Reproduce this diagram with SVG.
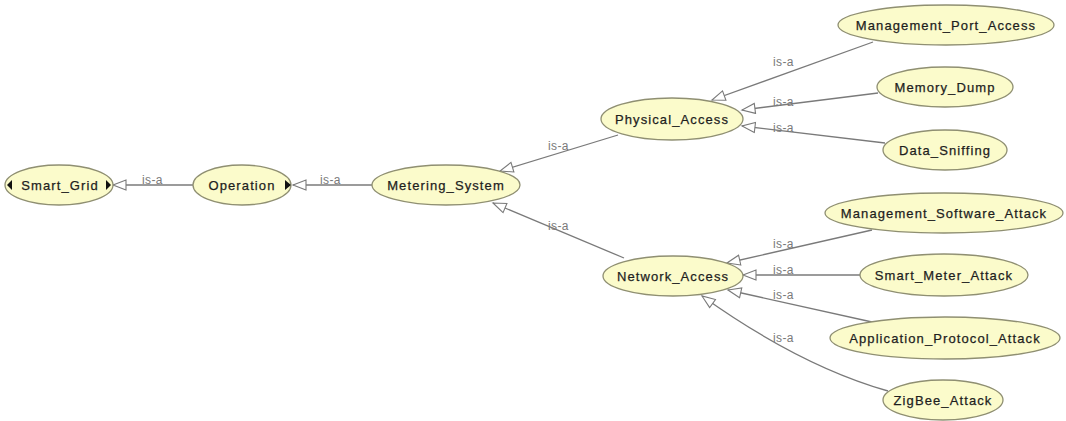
<svg xmlns="http://www.w3.org/2000/svg" width="1066" height="421" viewBox="0 0 1066 421">
  <defs>
    <!-- hollow triangle for subclass (is-a) links -->
    <marker id="isa" markerUnits="userSpaceOnUse" markerWidth="16" markerHeight="14" refX="14" refY="6" orient="auto">
      <path d="M1,1 L14,6 L1,11 Z" fill="#ffffff" stroke="#7a7a7a" stroke-width="1.1"/>
    </marker>
  </defs>
  <style>
    .node ellipse { fill: #fbfbcb; stroke: #8f8f72; stroke-width: 1.3; }
    .node text { font-family: "Liberation Sans", Arial, sans-serif; font-size: 13px; letter-spacing: 1.1px; fill: #1e1e1e; text-anchor: middle; stroke: #1e1e1e; stroke-width: 0.25; }
    .toggle { fill: #111111; }
    .edge { fill: none; stroke: #7a7a7a; stroke-width: 1.3; marker-end: url(#isa); }
    .lbl { font-family: "Liberation Sans", Arial, sans-serif; font-size: 12px; letter-spacing: 0.4px; fill: #7a7a7a; }
  </style>
  <rect width="1066" height="421" fill="#ffffff"/>

  <g id="connectors">
    <line class="edge" x1="193" y1="185" x2="113" y2="185"/>
    <line class="edge" x1="372" y1="185" x2="293" y2="185"/>
    <line class="edge" x1="618" y1="135" x2="500" y2="171"/>
    <line class="edge" x1="624" y1="258" x2="493" y2="203"/>
    <line class="edge" x1="873" y1="42" x2="712" y2="100"/>
    <line class="edge" x1="878" y1="93" x2="742" y2="110"/>
    <line class="edge" x1="885" y1="143" x2="742" y2="126"/>
    <line class="edge" x1="872" y1="230" x2="727" y2="263"/>
    <line class="edge" x1="860" y1="275" x2="743" y2="275"/>
    <line class="edge" x1="872" y1="322" x2="728" y2="290"/>
    <path class="edge" d="M888,391 Q800,366 702,296"/>
    <text class="lbl" x="142" y="184">is-a</text>
    <text class="lbl" x="320" y="184">is-a</text>
    <text class="lbl" x="548" y="150">is-a</text>
    <text class="lbl" x="548" y="230">is-a</text>
    <text class="lbl" x="773" y="66">is-a</text>
    <text class="lbl" x="773" y="106">is-a</text>
    <text class="lbl" x="773" y="132">is-a</text>
    <text class="lbl" x="773" y="248">is-a</text>
    <text class="lbl" x="773" y="274">is-a</text>
    <text class="lbl" x="773" y="299">is-a</text>
    <text class="lbl" x="773" y="342">is-a</text>
  </g>

  <g id="Smart_Grid" class="node">
    <ellipse cx="59" cy="185" rx="54" ry="20"/>
    <text x="60" y="190">Smart_Grid</text>
    <path class="toggle" d="M12,180 L7,185 L12,190 Z"/>
    <path class="toggle" d="M106,180 L111,185 L106,190 Z"/>
  </g>
  <g id="Operation" class="node">
    <ellipse cx="242" cy="185" rx="49" ry="20"/>
    <text x="242" y="190">Operation</text>
    <path class="toggle" d="M285,180 L291,185 L285,190 Z"/>
  </g>
  <g id="Metering_System" class="node">
    <ellipse cx="446" cy="185" rx="74" ry="20"/>
    <text x="446" y="190">Metering_System</text>
  </g>
  <g id="Physical_Access" class="node">
    <ellipse cx="672" cy="119" rx="71" ry="21"/>
    <text x="672" y="124">Physical_Access</text>
  </g>
  <g id="Network_Access" class="node">
    <ellipse cx="673" cy="276" rx="70" ry="20"/>
    <text x="673" y="281">Network_Access</text>
  </g>
  <g id="Management_Port_Access" class="node">
    <ellipse cx="946" cy="25" rx="108" ry="20"/>
    <text x="946" y="30">Management_Port_Access</text>
  </g>
  <g id="Memory_Dump" class="node">
    <ellipse cx="945" cy="87" rx="68" ry="20"/>
    <text x="945" y="92">Memory_Dump</text>
  </g>
  <g id="Data_Sniffing" class="node">
    <ellipse cx="945" cy="150" rx="62" ry="20"/>
    <text x="945" y="155">Data_Sniffing</text>
  </g>
  <g id="Management_Software_Attack" class="node">
    <ellipse cx="944" cy="213" rx="119" ry="20"/>
    <text x="944" y="218">Management_Software_Attack</text>
  </g>
  <g id="Smart_Meter_Attack" class="node">
    <ellipse cx="944" cy="275" rx="84" ry="21"/>
    <text x="944" y="280">Smart_Meter_Attack</text>
  </g>
  <g id="Application_Protocol_Attack" class="node">
    <ellipse cx="945" cy="338" rx="115" ry="21"/>
    <text x="945" y="343">Application_Protocol_Attack</text>
  </g>
  <g id="ZigBee_Attack" class="node">
    <ellipse cx="943" cy="400" rx="60" ry="20"/>
    <text x="943" y="405">ZigBee_Attack</text>
  </g>
</svg>
